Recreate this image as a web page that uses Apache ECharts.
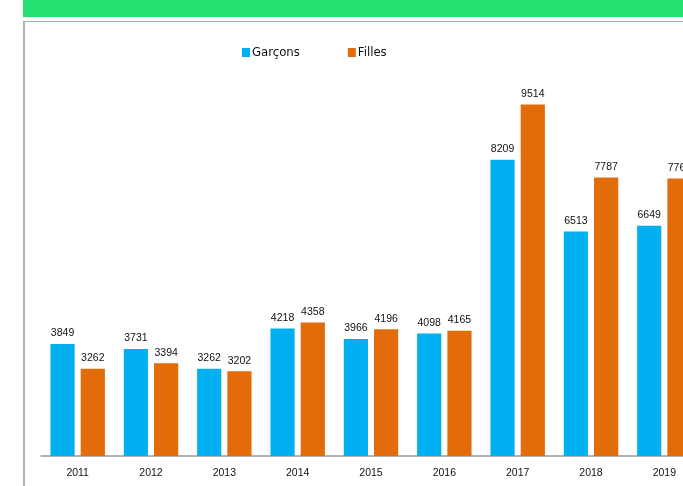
<!DOCTYPE html>
<html>
<head>
<meta charset="utf-8">
<script src="https://cdn.jsdelivr.net/npm/echarts@6/dist/echarts.min.js"></script>
<style>
  html, body { margin: 0; padding: 0; width: 683px; height: 486px; overflow: hidden; background: #fff; }
  #topbar { position: absolute; left: 23px; top: 0; width: 700px; height: 17px; background: #23E070; }
  #card { position: absolute; left: 23px; top: 21px; width: 760px; height: 480px; border-left: 2px solid #b4b4b4; border-top: 1px solid #a8a8a8; box-sizing: border-box; }
  #chart { position: absolute; left: 0; top: 0; width: 760px; height: 486px; }
</style>
</head>
<body>
<div id="topbar"></div>
<div id="card"></div>
<div id="chart"></div>
<script>
const categories = ['2011', '2012', '2013', '2014', '2015', '2016', '2017', '2018', '2019'];
const garcons = [3849, 3731, 3262, 4218, 3966, 4098, 8209, 6513, 6649];
const filles = [3262, 3394, 3202, 4358, 4196, 4165, 9514, 7787, 7765];
const seriesNames = ['Garçons', 'Filles'];

const chart = echarts.init(document.getElementById('chart'), null, { renderer: 'canvas' });
const labelStyle = {
  show: true,
  position: 'top',
  distance: 5,
  color: '#111',
  fontSize: 10.5,
  fontFamily: 'Liberation Sans, Arial, sans-serif'
};
chart.setOption({
  animation: false,
  legend: {
    data: seriesNames,
    left: 237,
    top: 41,
    icon: 'rect',
    itemWidth: 8,
    itemHeight: 9,
    itemGap: 48,
    textStyle: { color: '#111', fontSize: 13, fontFamily: 'DejaVu Sans Condensed, DejaVu Sans, sans-serif', padding: [0, 0, 0, -3] }
  },
  grid: { left: 41, width: 660, top: 84, height: 372, containLabel: false },
  xAxis: {
    type: 'category',
    data: categories,
    axisLine: { lineStyle: { color: '#9a9a9a', width: 1.5 } },
    axisTick: { show: false },
    axisLabel: { color: '#111', fontSize: 10.5, margin: 12, fontFamily: 'Liberation Sans, Arial, sans-serif' }
  },
  yAxis: {
    type: 'value',
    min: 1200,
    max: 10000,
    show: false,
    splitLine: { show: false }
  },
  series: [
    {
      name: seriesNames[0],
      type: 'bar',
      data: garcons,
      barWidth: '33%',
      barGap: '25%',
      itemStyle: { color: '#00B0F0' },
      label: labelStyle
    },
    {
      name: seriesNames[1],
      type: 'bar',
      data: filles,
      barWidth: '33%',
      itemStyle: { color: '#E36C0A' },
      label: labelStyle
    }
  ]
});
</script>
</body>
</html>
